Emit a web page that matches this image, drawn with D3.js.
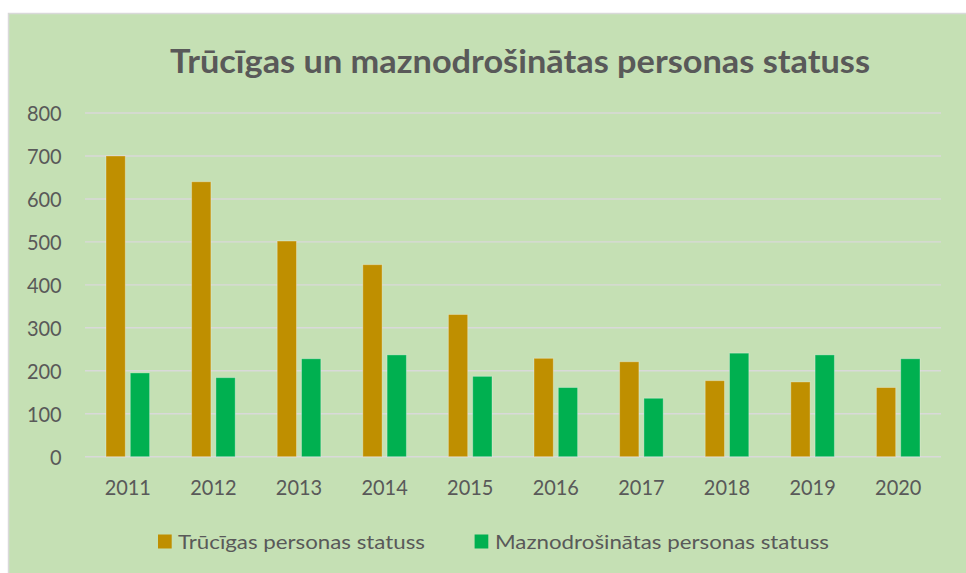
<!DOCTYPE html>
<html><head><meta charset="utf-8">
<script src="https://cdn.jsdelivr.net/npm/d3@7"></script>
<style>html,body{margin:0;padding:0;background:#fff;}svg{display:block;}</style>
</head><body>
<svg id="c" width="966" height="573"></svg>
<script>
const title = "Trūcīgas un maznodrošinātas personas statuss";
const years = ["2011","2012","2013","2014","2015","2016","2017","2018","2019","2020"];
const seriesNames = ["Trūcīgas personas statuss","Maznodrošinātas personas statuss"];
const truciga = [700,640,502,447,331,229,221,177,174,161];
const maznodr = [195,184,228,237,187,161,136,241,237,228];
const yTicks = [0,100,200,300,400,500,600,700,800];
const colors = ["#BF8F00","#00B050"];

const FONT = "Lato, 'Open Sans', sans-serif";
const TXT = "#595959";
const svg = d3.select("#c");

svg.append("rect").attr("x",8.5).attr("y",13.5).attr("width",1000).attr("height",600)
  .attr("fill","#C5E0B4").attr("stroke","#D9D9D9").attr("stroke-width",1.5);

const plot = {l:85, r:941, t:113, b:456.7};
const x0 = d3.scaleBand().domain(years).range([plot.l, plot.r]).padding(0);
const x1 = d3.scaleBand().domain(seriesNames).range([0, x0.bandwidth()]).paddingInner(0.206).paddingOuter(0.864);
const y = d3.scaleLinear().domain([0,800]).range([plot.b, plot.t]);

function fitLen(sel, target){
  sel.attr("textLength", target).attr("lengthAdjust","spacingAndGlyphs");
}

svg.append("g").selectAll("line").data(yTicks).join("line")
  .attr("x1",plot.l).attr("x2",plot.r)
  .attr("y1",d=>y(d)).attr("y2",d=>y(d))
  .attr("stroke","#D9D9D9").attr("stroke-width",1.4);

const yAxis = svg.append("g").attr("transform",`translate(${61.7},0)`)
  .call(d3.axisLeft(y).tickValues(yTicks).tickSize(0).tickPadding(0));
yAxis.select(".domain").remove();

const xAxis = svg.append("g").attr("transform",`translate(0,${plot.b})`)
  .call(d3.axisBottom(x0).tickSize(0).tickPadding(0));
xAxis.select(".domain").remove();

const tickSize = 21;
yAxis.selectAll("text").attr("font-family",FONT).attr("font-size",tickSize).attr("fill",TXT).attr("dy","0.36em").attr("x",0)
  .each(function(){ fitLen(d3.select(this), 11.6*this.textContent.length); });
xAxis.selectAll("text").attr("font-family",FONT).attr("font-size",tickSize).attr("fill",TXT).attr("dy",0).attr("y",38.3)
  .each(function(){ fitLen(d3.select(this), 46.3); });

const data = years.map((yr,i)=>({year:yr, vals:[truciga[i], maznodr[i]]}));
const g = svg.append("g");
g.selectAll("g").data(data).join("g")
  .attr("transform",d=>`translate(${x0(d.year)},0)`)
  .selectAll("rect").data(d=>d.vals.map((v,k)=>({k,v})))
  .join("rect")
  .attr("x",d=>x1(seriesNames[d.k]))
  .attr("width",x1.bandwidth())
  .attr("y",d=>y(d.v))
  .attr("height",d=>y(0)-y(d.v))
  .attr("fill",d=>colors[d.k])
  .attr("stroke","rgba(255,255,255,0.3)").attr("stroke-width",1);

const t = svg.append("text").attr("x",520).attr("y",72.7).attr("text-anchor","middle")
  .attr("font-family",FONT).attr("font-weight","bold").attr("font-size",33).attr("fill",TXT).text(title);
fitLen(t, 700);

const leg = [{sx:158, tx:178, w:247},{sx:474.6, tx:495, w:334}];
seriesNames.forEach((n,i)=>{
  svg.append("rect").attr("x",leg[i].sx).attr("y",534.5).attr("width",13.7).attr("height",14).attr("fill",colors[i]);
  const lt = svg.append("text").attr("x",leg[i].tx).attr("y",548.5)
    .attr("font-family",FONT).attr("font-size",20).attr("fill",TXT).text(n);
  fitLen(lt, leg[i].w);
});
</script>
</body></html>
